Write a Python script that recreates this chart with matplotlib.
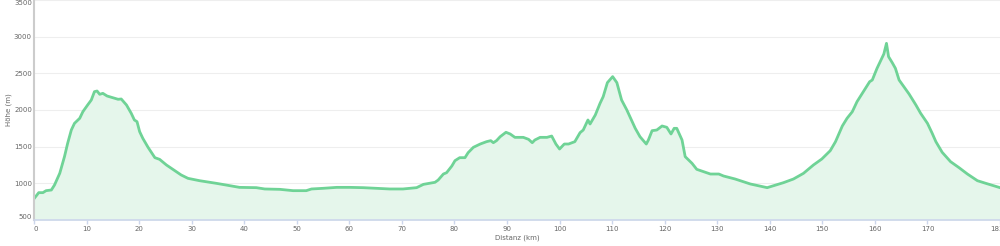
import matplotlib
matplotlib.use("Agg")
import matplotlib.pyplot as plt

distance_km = [0.0, 0.9, 1.7, 2.3, 3.3, 3.9, 4.9, 5.8, 6.4, 7.1, 7.7, 8.7, 9.3, 10.2, 10.9,
               11.5, 12.0, 12.5, 13.1, 13.9, 15.0, 16.0, 16.6, 17.6, 18.5, 19.1, 19.6, 20.1,
               20.7, 21.7, 23.0, 23.9, 25.2, 26.8, 28.0, 29.3, 31.5, 34.7, 37.2, 39.1, 42.3,
               43.9, 46.8, 49.3, 51.8, 52.8, 55.0, 57.6, 60.1, 62.6, 65.2, 67.7, 70.2, 72.8,
               74.1, 76.3, 76.9, 77.9, 78.5, 79.5, 80.1, 81.0, 82.0, 82.6, 83.6, 84.9, 86.1,
               86.9, 87.4, 88.0, 88.7, 89.8, 90.6, 91.5, 93.1, 94.1, 94.8, 95.3, 96.3, 97.6,
               98.5, 99.3, 100.0, 100.9, 101.7, 102.9, 103.9, 104.5, 105.4, 105.8, 106.8,
               107.7, 108.3, 109.1, 110.1, 110.9, 111.8, 112.8, 114.4, 115.3, 116.5, 116.9,
               117.6, 118.5, 119.5, 120.4, 121.2, 121.8, 122.3, 123.3, 123.9, 125.2, 126.1,
               128.7, 130.3, 131.2, 133.4, 136.3, 139.5, 142.6, 144.5, 146.4, 148.3, 149.9,
               151.5, 152.5, 153.8, 154.7, 155.7, 156.6, 157.8, 159.0, 159.5, 160.4, 161.7,
               162.2, 162.6, 163.3, 163.9, 164.6, 165.5, 166.5, 167.8, 168.7, 170.0, 170.9,
               171.6, 172.8, 174.4, 176.0, 177.6, 179.5, 181.1, 183.8]
elevation_m = [790, 873, 873, 900, 909, 977, 1137, 1364, 1545, 1727, 1818, 1887, 1977, 2068, 2136,
               2250, 2259, 2214, 2227, 2191, 2168, 2146, 2150, 2068, 1955, 1864, 1841, 1705,
               1614, 1491, 1350, 1327, 1250, 1173, 1114, 1068, 1036, 1000, 968, 945, 941,
               923, 918, 900, 900, 923, 932, 945, 945, 941, 932, 923, 923, 941,
               986, 1014, 1045, 1127, 1145, 1236, 1309, 1350, 1350, 1418, 1491, 1536, 1568,
               1582, 1554, 1582, 1636, 1696, 1673, 1627, 1627, 1600, 1554, 1591, 1627, 1627,
               1645, 1536, 1468, 1536, 1536, 1568, 1691, 1727, 1864, 1809, 1932,
               2091, 2182, 2373, 2455, 2373, 2136, 2000, 1750, 1636, 1536, 1591,
               1718, 1727, 1782, 1764, 1673, 1750, 1750, 1591, 1364, 1273, 1191,
               1127, 1127, 1100, 1059, 991, 941, 1009, 1059, 1136, 1250, 1332,
               1445, 1568, 1782, 1887, 1977, 2114, 2250, 2386, 2409, 2568, 2764,
               2909, 2727, 2645, 2568, 2409, 2318, 2218, 2068, 1955, 1818, 1682,
               1568, 1423, 1295, 1214, 1127, 1036, 1000, 941]

x_ticks = [0, 10, 20, 30, 40, 50, 60, 70, 80, 90, 100, 110, 120, 130, 140, 150, 160, 170, 183.8]
x_tick_labels = ["0", "10", "20", "30", "40", "50", "60", "70", "80", "90", "100", "110",
                 "120", "130", "140", "150", "160", "170", "183.8"]
y_ticks = [500, 1000, 1500, 2000, 2500, 3000, 3500]

line_color = "#6fd396"
fill_color = "#e5f6eb"
label_color = "#666666"

fig = plt.figure(figsize=(10, 2.46), dpi=100)
ax = fig.add_axes([0.034, 26 / 246, 0.966, 220 / 246])

ax.fill_between(distance_km, elevation_m, 500, color=fill_color, lw=0)
ax.plot(distance_km, elevation_m, color=line_color, lw=2, solid_joinstyle="round")

ax.set_xlim(0, 183.8)
ax.set_ylim(500, 3500)
ax.set_xticks(x_ticks)
ax.set_xticklabels(x_tick_labels)
ax.set_yticks(y_ticks)
ax.set_yticklabels([str(v) for v in y_ticks])

ax.grid(axis="y", color="#eeeeee", lw=0.8)
ax.set_axisbelow(True)
for s in ["top", "right"]:
    ax.spines[s].set_visible(False)
ax.spines["left"].set_color("#cccccc")
ax.spines["left"].set_linewidth(1.5)
ax.spines["bottom"].set_color("#ccd6eb")
ax.spines["bottom"].set_linewidth(1.2)

ax.tick_params(axis="x", colors="#ccd6eb", length=3, width=1, labelcolor=label_color,
               labelsize=5, pad=1.5)
ax.tick_params(axis="y", length=0, labelcolor=label_color, labelsize=5, pad=1.5)

ylabels = ax.get_yticklabels()
ylabels[0].set_va("bottom")
ylabels[-1].set_va("top")
xlabels = ax.get_xticklabels()
xlabels[0].set_ha("left")

fig.text(0.009, 1 - 110 / 246, "Höhe (m)", rotation=90, ha="center", va="center",
         fontsize=5, color=label_color)
fig.text(0.517, 1 - 238 / 246, "Distanz (km)", ha="center", va="center",
         fontsize=5, color=label_color)

fig.savefig("out.png", dpi=100)
